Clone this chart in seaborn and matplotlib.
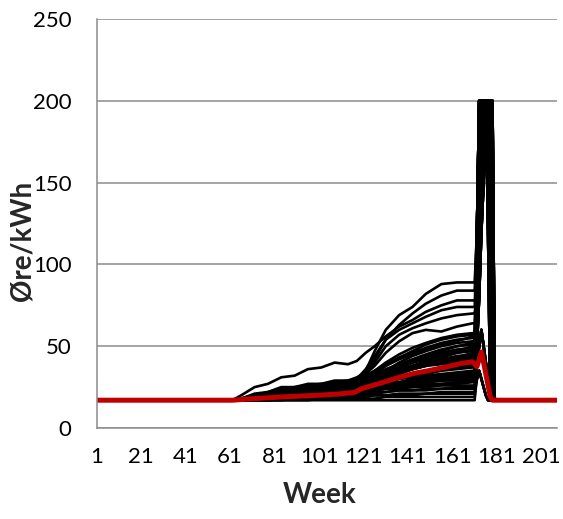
import seaborn as sns
import pandas as pd
import numpy as np
import matplotlib.pyplot as plt

# Flat price before and after the scenario period (øre/kWh)
base_price = 17
base_weeks = [1, 62]
tail_weeks = [180, 208]

# Knot weeks for the growth period
growth_weeks = [66, 72, 78, 84, 90, 96, 102, 108, 114, 118, 122, 126, 131, 137, 143, 149, 156, 163, 170]
plateau_week = 171
spike_weeks = [172, 173, 174, 175, 176, 177, 178, 179]

# Scenario paths (values at growth_weeks)
scenarios = {
    'A':  [18, 19, 21, 22, 23, 24, 25, 26, 27, 29, 35, 47, 60, 69, 74, 82, 88, 89, 89],
    'B':  [18, 19, 20, 21, 23, 24, 25, 26, 27, 29, 33, 42, 54, 63, 70, 76, 81, 84, 84],
    'C':  [20, 25, 27, 31, 32, 36, 37, 40, 39, 41, 46, 50, 56, 62, 66, 71, 75, 78, 78],
    'D':  [18, 20, 21, 24, 24, 26, 26, 28, 28, 30, 36, 44, 54, 60, 64, 68, 72, 74, 74],
    'E':  [18, 21, 22, 25, 25, 27, 27, 29, 29, 31, 34, 40, 50, 57, 61, 64, 67, 69, 70],
    'F':  [17, 19, 21, 22, 24, 25, 26, 27, 28, 30, 33, 38, 46, 53, 58, 60, 59, 62, 64],
    'G1': [17, 18, 20, 22, 23, 24, 25, 26, 27, 28, 31, 35, 40, 45, 49, 52, 55, 57, 58],
    'G2': [17, 18, 19, 21, 22, 23, 24, 25, 26, 28, 30, 33, 38, 43, 47, 51, 54, 56, 57],
    'G3': [18, 20, 22, 24, 25, 26, 27, 28, 29, 30, 32, 35, 39, 43, 46, 49, 52, 54, 55],
    'G4': [17, 18, 19, 20, 21, 22, 23, 24, 25, 26, 28, 31, 35, 40, 44, 47, 50, 52, 53],
    'G5': [17, 18, 20, 21, 23, 24, 25, 26, 27, 28, 30, 32, 36, 39, 42, 45, 48, 50, 51],
    'K1': [17, 19, 21, 23, 22, 25, 24, 27, 26, 29, 31, 34, 38, 42, 45, 48, 51, 53, 56],
    'K2': [17, 18, 19, 20, 22, 22, 24, 24, 26, 27, 29, 31, 34, 38, 41, 44, 47, 50, 52],
    'K3': [18, 19, 21, 21, 23, 23, 25, 25, 27, 27, 29, 32, 35, 37, 40, 43, 45, 47, 50],
    'K4': [17, 18, 18, 20, 20, 22, 22, 24, 24, 26, 27, 30, 32, 35, 38, 41, 43, 46, 48],
    'K5': [17, 17, 19, 19, 21, 21, 23, 23, 25, 25, 27, 28, 31, 33, 36, 38, 41, 43, 46],
    'K6': [17, 18, 20, 20, 22, 23, 23, 25, 25, 27, 28, 29, 32, 34, 36, 39, 40, 42, 43],
    'H1': [17, 18, 19, 20, 21, 22, 23, 24, 25, 26, 28, 30, 33, 36, 40, 43, 46, 48, 49],
    'H2': [17, 18, 20, 22, 24, 25, 26, 27, 27, 28, 29, 31, 34, 37, 40, 42, 44, 46, 47],
    'H3': [17, 17, 18, 19, 20, 21, 22, 23, 24, 25, 27, 29, 32, 35, 38, 40, 42, 44, 45],
    'H4': [18, 19, 21, 23, 24, 25, 26, 27, 28, 29, 30, 31, 33, 35, 37, 39, 41, 43, 44],
    'H5': [17, 18, 19, 20, 21, 22, 22, 23, 24, 25, 26, 28, 30, 33, 36, 38, 40, 41, 42],
    'H6': [17, 18, 19, 21, 22, 23, 24, 25, 26, 27, 28, 30, 32, 34, 36, 38, 39, 40, 41],
    'H7': [17, 17, 18, 19, 20, 21, 21, 22, 23, 24, 25, 27, 29, 31, 33, 35, 37, 38, 39],
    'H8': [17, 18, 20, 21, 22, 23, 24, 24, 25, 26, 27, 28, 30, 32, 33, 35, 36, 37, 38],
    'I1': [17, 17, 18, 19, 19, 20, 21, 22, 22, 23, 25, 26, 28, 30, 32, 33, 35, 36, 37],
    'I2': [17, 18, 19, 20, 21, 22, 23, 23, 24, 25, 26, 27, 28, 30, 31, 32, 33, 34, 35],
    'I3': [17, 17, 18, 18, 19, 20, 21, 21, 22, 23, 24, 25, 27, 28, 30, 31, 32, 33, 34],
    'I4': [17, 18, 19, 20, 21, 22, 23, 24, 24, 25, 25, 26, 27, 28, 29, 30, 31, 32, 33],
    'I5': [17, 17, 18, 19, 20, 20, 21, 22, 22, 23, 24, 25, 26, 27, 28, 29, 30, 31, 32],
    'I6': [17, 17, 17, 18, 18, 19, 20, 20, 21, 22, 23, 24, 25, 26, 27, 28, 29, 30, 31],
    'I7': [17, 18, 19, 19, 20, 21, 22, 22, 23, 23, 24, 25, 26, 27, 27, 28, 29, 29, 30],
    'J1': [17, 17, 18, 19, 19, 20, 20, 21, 21, 22, 23, 23, 24, 25, 26, 27, 27, 28, 29],
    'J2': [17, 17, 17, 18, 18, 19, 19, 20, 21, 21, 22, 23, 24, 25, 25, 26, 27, 27, 28],
    'J3': [17, 18, 18, 19, 20, 20, 21, 21, 22, 22, 23, 23, 24, 24, 25, 25, 26, 26, 26],
    'J4': [17, 17, 17, 18, 18, 18, 19, 19, 20, 20, 21, 21, 22, 23, 23, 24, 24, 25, 25],
    'J5': [17, 17, 18, 18, 19, 19, 20, 20, 20, 21, 21, 22, 22, 23, 23, 23, 24, 24, 24],
    'J6': [17, 17, 17, 17, 18, 18, 18, 19, 19, 19, 20, 20, 20, 21, 21, 21, 22, 22, 22],
    'J7': [17, 17, 17, 18, 18, 18, 18, 19, 19, 19, 19, 20, 20, 20, 20, 21, 21, 21, 21],
    'J8': [17, 17, 17, 17, 17, 17, 18, 18, 18, 18, 18, 18, 19, 19, 19, 19, 19, 19, 19],
    'J9': [17, 17, 17, 17, 17, 17, 17, 17, 17, 17, 17, 17, 17, 17, 17, 17, 17, 17, 17],
}

# Price spike shapes at spike_weeks
spike_shapes = {
    'full': [120, 200, 200, 200, 200, 200, 200, 200],
    'mid':  [80, 150, 200, 200, 200, 200, 200, 17],
    'late': [60, 100, 140, 200, 200, 200, 17, 17],
    'half': [50, 80, 120, 150, 200, 120, 17, 17],
    'low':  [40, 50, 60, 50, 40, 30, 17, 17],
    'flat': [30, 35, 30, 25, 20, 17, 17, 17],
}
spike_of = {
    'A': 'full', 'B': 'full', 'C': 'mid', 'D': 'full', 'E': 'mid', 'F': 'late',
    'G1': 'full', 'G2': 'mid', 'G3': 'late', 'G4': 'full', 'G5': 'half',
    'K1': 'full', 'K2': 'late', 'K3': 'mid', 'K4': 'half', 'K5': 'full', 'K6': 'low',
    'H1': 'mid', 'H2': 'full', 'H3': 'late', 'H4': 'half', 'H5': 'mid', 'H6': 'low',
    'H7': 'full', 'H8': 'late',
    'I1': 'half', 'I2': 'mid', 'I3': 'low', 'I4': 'full', 'I5': 'late', 'I6': 'flat', 'I7': 'half',
    'J1': 'low', 'J2': 'mid', 'J3': 'flat', 'J4': 'late', 'J5': 'low', 'J6': 'flat',
    'J7': 'half', 'J8': 'flat', 'J9': 'low',
}

# Average price (red line)
mean_weeks = [1, 62, 70, 84, 100, 110, 117, 120, 125, 130, 137, 144, 150, 157, 165, 170,
              172, 174, 175, 176, 177, 178, 179, 208]
mean_price = [17, 17, 17.8, 19, 20, 20.8, 21.8, 24, 26, 28, 31, 33.5, 35, 37, 39.5, 40.5,
              37.5, 46.5, 40, 33, 26, 19, 17, 17]

xticks = list(range(1, 202, 20))

# long-form table for seaborn
rows = []
for name, growth in scenarios.items():
    weeks = base_weeks + growth_weeks + [plateau_week] + spike_weeks + tail_weeks
    vals = [base_price] * 2 + growth + [growth[-1]] + spike_shapes[spike_of[name]] + [base_price] * 2
    for w, v in zip(weeks, vals):
        rows.append((name, w, v))
df = pd.DataFrame(rows, columns=['scenario', 'week', 'price'])
mean_df = pd.DataFrame({'week': mean_weeks, 'price': mean_price})

sns.set_style('white')
plt.rcParams['font.family'] = ['Lato', 'DejaVu Sans']

fig = plt.figure(figsize=(5.63, 5.19), dpi=100)
ax = fig.add_axes([0.1718, 0.1753, 0.8175, 0.788])

grey = '#8c8c8c'
ax.set_axisbelow(True)
ax.yaxis.grid(True, color=grey, linewidth=1.1)
ax.xaxis.grid(False)

sns.lineplot(data=df, x='week', y='price', units='scenario', estimator=None,
             color='black', linewidth=1.9, ax=ax, legend=False)
sns.lineplot(data=mean_df, x='week', y='price', color='#C00000', linewidth=3.6,
             solid_capstyle='round', ax=ax, legend=False)

ax.set_xlim(1, 208)
ax.set_ylim(0, 250)
ax.set_xticks(xticks)
ax.set_xticklabels([str(t) for t in xticks])
ax.set_yticks([0, 50, 100, 150, 200, 250])

for s in ['top', 'right']:
    ax.spines[s].set_visible(False)
for s in ['left', 'bottom']:
    ax.spines[s].set_color(grey)
    ax.spines[s].set_linewidth(1.1)

ax.tick_params(axis='both', direction='out', length=6, width=1.1, color=grey,
               labelsize=16, labelcolor='black')
ax.tick_params(axis='y', pad=12)
ax.tick_params(axis='x', pad=8)

ax.set_xlabel('Week', fontsize=20, fontweight='bold', va='center')
ax.set_ylabel('Øre/kWh', fontsize=20, fontweight='bold', va='center')
ax.xaxis.set_label_coords(0.485, -0.165)
ax.yaxis.set_label_coords(-0.162, 0.457)

fig.savefig('out.png', dpi=100)
